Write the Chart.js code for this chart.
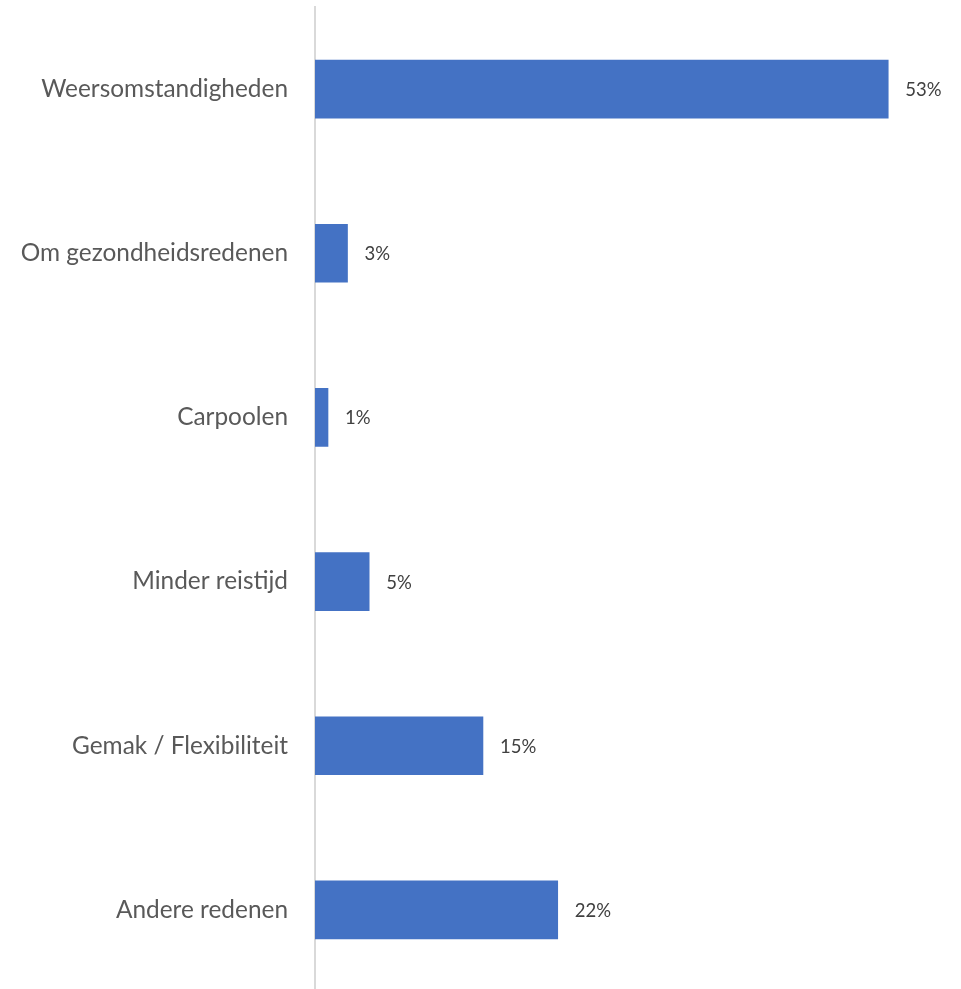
<!DOCTYPE html>
<html>
<head>
<meta charset="utf-8">
<script src="https://cdn.jsdelivr.net/npm/chart.js@4"></script>
<style>
  html, body { margin: 0; padding: 0; background: #fff; overflow: hidden; }
  #wrap { width: 961px; height: 992px; }
</style>
</head>
<body>
<div id="wrap"><canvas id="reasons" width="961" height="992"></canvas></div>
<script>
// categories and values (percent)
const categories = [
  "Weersomstandigheden",
  "Om gezondheidsredenen",
  "Carpoolen",
  "Minder reistijd",
  "Gemak / Flexibiliteit",
  "Andere redenen"
];
const shares = [52.9, 3.0, 1.2, 5.0, 15.5, 22.4];
const shareLabels = ["53%", "3%", "1%", "5%", "15%", "22%"];

// draws the percentage next to each bar
const barValueLabels = {
  id: "barValueLabels",
  afterDatasetsDraw(chart) {
    const ctx = chart.ctx;
    const meta = chart.getDatasetMeta(0);
    ctx.save();
    ctx.font = "18.5px Lato";
    ctx.fillStyle = "#404040";
    ctx.textAlign = "left";
    ctx.textBaseline = "middle";
    meta.data.forEach((bar, i) => {
      ctx.fillText(shareLabels[i], bar.x + 17, bar.y + 1);
    });
    ctx.restore();
  }
};

const ctx = document.getElementById("reasons").getContext("2d");
new Chart(ctx, {
  type: "bar",
  data: {
    labels: categories,
    datasets: [{
      data: shares,
      backgroundColor: "#4472c4",
      barThickness: 58
    }]
  },
  options: {
    indexAxis: "y",
    responsive: false,
    animation: false,
    layout: { padding: { top: 7, right: 17.5, bottom: 0, left: 0 } },
    plugins: {
      legend: { display: false },
      tooltip: { enabled: false }
    },
    scales: {
      x: {
        display: false,
        min: 0,
        max: 58
      },
      y: {
        afterFit: (scale) => {
          scale.width = 315;
          scale.paddingTop = 0;
          scale.paddingBottom = 0;
        },
        grid: { display: false, drawTicks: false },
        border: { display: true, color: "#d9d9d9", width: 2 },
        ticks: {
          padding: 27,
          color: "#595959",
          font: { family: "Lato", size: 24.4 }
        }
      }
    }
  },
  plugins: [barValueLabels]
});
</script>
</body>
</html>
